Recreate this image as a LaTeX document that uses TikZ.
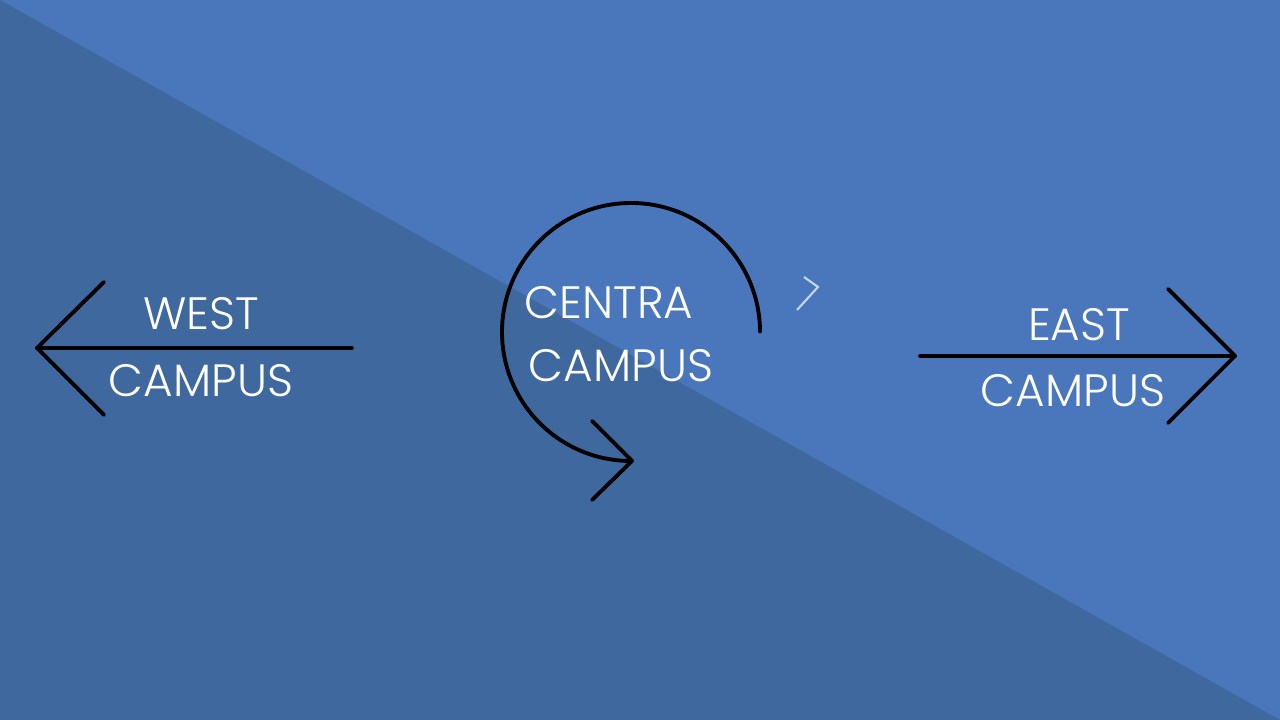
\documentclass[tikz,border=0pt]{standalone}
\usepackage{fontspec}
\setmainfont{Poppins Light}
\usepackage{tikz}
\definecolor{skyblue}{HTML}{4A76BB}
\definecolor{deepblue}{HTML}{3E689E}
\definecolor{chevgrey}{HTML}{C5D5EA}
\tikzset{
  label/.style={text=white,inner sep=0pt,font=\fontsize{12.9pt}{15pt}\selectfont},
  line/.style={black,line width=1.1pt,line cap=round,line join=round}
}

\begin{document}
\begin{tikzpicture}
% Background
\fill[skyblue] (0,0) rectangle (12.8,7.2);
\fill[deepblue] (0,7.2) -- (12.8,0) -- (0,0) -- cycle;

% West
\node[label] (westa) at (2.01,4.06) {WEST};
\node[label] (westb) at (2.01,3.39) {CAMPUS};
\coordinate (wtail) at (3.52,3.72);
\coordinate (wtip) at (0.37,3.72);
\coordinate (wup) at (1.04,4.38);
\coordinate (wdown) at (1.04,3.05);
\draw[line] (wtail) -- (wtip);
\draw[line] (wup) -- (wtip) -- (wdown);

% Central
\node[label] (centa) at (6.09,4.17) {CENTRA};
\node[label] (centb) at (6.21,3.54) {CAMPUS};
\coordinate (cstart) at (7.60,3.88);
\coordinate (ctip) at (6.32,2.59);
\coordinate (cup) at (5.92,2.99);
\coordinate (cdown) at (5.92,2.20);
\draw[line] (cstart) arc[start angle=0,end angle=270,radius=1.29];
\draw[line] (cup) -- (ctip) -- (cdown);

% Stray mark
\coordinate (ma) at (8.04,4.43);
\coordinate (mb) at (8.18,4.33);
\coordinate (mc) at (7.97,4.10);
\draw[chevgrey,line width=0.6pt] (ma) -- (mb) -- (mc);

% East
\node[label] (easta) at (10.79,3.95) {EAST};
\node[label] (eastb) at (10.73,3.29) {CAMPUS};
\coordinate (etail) at (9.20,3.64);
\coordinate (etip) at (12.35,3.64);
\coordinate (eup) at (11.68,4.31);
\coordinate (edown) at (11.68,2.97);
\draw[line] (etail) -- (etip);
\draw[line] (eup) -- (etip) -- (edown);
\end{tikzpicture}
\end{document}
